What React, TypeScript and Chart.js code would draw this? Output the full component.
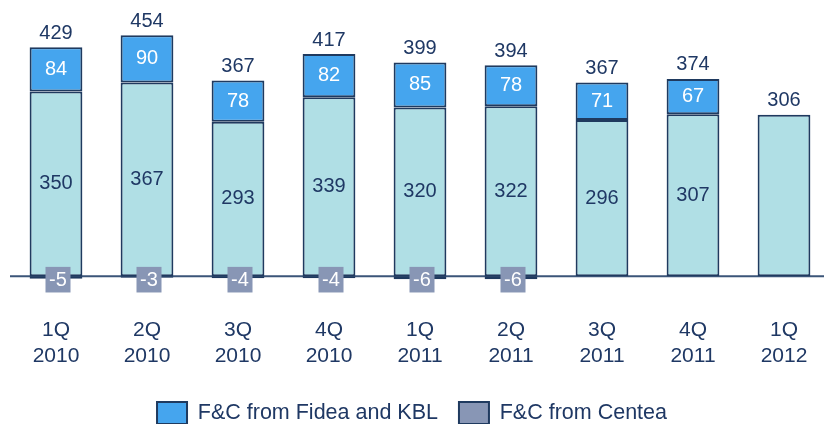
import React, { useEffect, useRef } from "react";
import { Chart, registerables } from "chart.js";

Chart.register(...registerables);

const categories: string[][] = [
  ["1Q", "2010"], ["2Q", "2010"], ["3Q", "2010"], ["4Q", "2010"],
  ["1Q", "2011"], ["2Q", "2011"], ["3Q", "2011"], ["4Q", "2011"], ["1Q", "2012"],
];
const baseValues: number[] = [350, 367, 293, 339, 320, 322, 296, 307, 306];
const fideaKblValues: (number | null)[] = [84, 90, 78, 82, 85, 78, 71, 67, null];
const centeaValues: (number | null)[] = [-5, -3, -4, -4, -6, -6, null, null, null];
const totals: number[] = [429, 454, 367, 417, 399, 394, 367, 374, 306];

const FONT = "'Liberation Sans', Arial, sans-serif";
const TEXT = "#1F3864";
const NAVY = "#1F3A5F";

const labelPlugin = {
  id: "labelPlugin",
  beforeDatasetsDraw(chart: any) {
    const { ctx } = chart;
    const y = chart.scales.y;
    const y0 = y.getPixelForValue(0);
    ctx.save();
    ctx.strokeStyle = "#3B5578";
    ctx.lineWidth = 2;
    ctx.beginPath();
    ctx.moveTo(10, y0);
    ctx.lineTo(chart.width, y0);
    ctx.stroke();
    ctx.restore();
  },
  afterDatasetsDraw(chart: any) {
    const { ctx } = chart;
    const metaBase = chart.getDatasetMeta(0);
    const metaF = chart.getDatasetMeta(1);
    const metaC = chart.getDatasetMeta(2);
    ctx.save();
    ctx.font = `20px ${FONT}`;
    ctx.textAlign = "center";
    ctx.textBaseline = "middle";
    metaBase.data.forEach((bar: any, i: number) => {
      const v = baseValues[i];
      ctx.fillStyle = TEXT;
      if (fideaKblValues[i] !== null) {
        ctx.fillText(String(v), bar.x, (bar.y + bar.base) / 2);
      }
      const fb = metaF.data[i];
      const top = fideaKblValues[i] !== null ? fb.y : bar.y;
      ctx.fillText(String(totals[i]), bar.x, top - 14);
    });
    metaF.data.forEach((bar: any, i: number) => {
      const v = fideaKblValues[i];
      if (v === null) return;
      ctx.fillStyle = "#FFFFFF";
      ctx.fillText(String(v), bar.x, (bar.y + bar.base) / 2);
    });
    metaC.data.forEach((bar: any, i: number) => {
      const v = centeaValues[i];
      if (v === null) return;
      const cx = bar.x + 2;
      const cy = bar.base + 3.5;
      ctx.fillStyle = "#8896B5";
      ctx.fillRect(cx - 12.5, cy - 12.8, 25, 25.6);
      ctx.fillStyle = "#FFFFFF";
      ctx.fillText(String(v), cx, cy + 1);
    });
    ctx.restore();
  },
};

export default function App() {
  const ref = useRef<HTMLCanvasElement | null>(null);
  useEffect(() => {
    if (!ref.current) return;
    const chart = new Chart(ref.current, {
      type: "bar",
      data: {
        labels: categories,
        datasets: [
          {
            label: "Base",
            data: baseValues,
            backgroundColor: "#B0DFE5",
            borderColor: NAVY,
            borderWidth: 2,
            borderSkipped: false,
            stack: "s",
          },
          {
            label: "F&C from Fidea and KBL",
            data: fideaKblValues,
            backgroundColor: "#45A5EE",
            borderColor: NAVY,
            borderWidth: 2,
            borderSkipped: false,
            stack: "s",
          },
          {
            label: "F&C from Centea",
            data: centeaValues,
            backgroundColor: "#8896B5",
            borderColor: NAVY,
            borderWidth: 2,
            borderSkipped: false,
            stack: "s",
          },
        ],
      },
      options: {
        animation: false,
        responsive: true,
        maintainAspectRatio: false,
        clip: false as any,
        layout: { padding: { top: 23, left: 0, right: 0, bottom: 0 } },
        datasets: { bar: { barPercentage: 0.58, categoryPercentage: 1 } },
        scales: {
          x: {
            stacked: true,
            offset: false,
            grid: { display: false, drawTicks: false },
            border: { display: false },
            ticks: { color: TEXT, font: { family: FONT, size: 21 }, padding: 26, maxRotation: 0, autoSkip: false },
            afterFit: (scale: any) => {
              scale.height = 89;
              scale.paddingLeft = 0;
              scale.paddingRight = 0;
            },
          },
          y: {
            stacked: true,
            display: true,
            position: "left",
            min: -30,
            max: 480,
            grid: { display: false, drawTicks: false },
            border: { display: false },
            ticks: { display: false },
            afterFit: (scale: any) => { scale.width = 56; },
          },
          yr: {
            display: true,
            position: "right",
            grid: { display: false, drawTicks: false },
            border: { display: false },
            ticks: { display: false },
            afterFit: (scale: any) => { scale.width = 40; },
          },
        },
        plugins: {
          legend: {
            position: "bottom",
            labels: {
              filter: (item: any) => item.datasetIndex !== 0,
              color: TEXT,
              font: { family: FONT, size: 21.5 },
              boxWidth: 30,
              boxHeight: 22,
              padding: 21,
            },
          },
          tooltip: { enabled: false },
        },
      },
      plugins: [labelPlugin],
    });
    return () => chart.destroy();
  }, []);
  return (
    <div style={{ position: "fixed", left: 0, top: 0, width: 824, height: 424, overflow: "hidden", background: "#fff" }}>
      <div style={{ position: "relative", width: 824, height: 434 }}>
        <canvas ref={ref} />
      </div>
    </div>
  );
}
